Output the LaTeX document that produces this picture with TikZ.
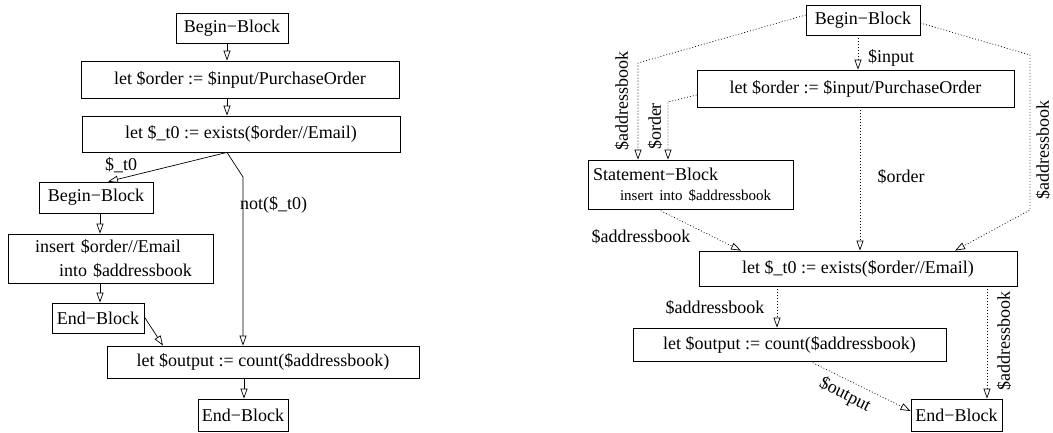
\documentclass[tikz,border=0pt]{standalone}
\usepackage{fontspec}
\setmainfont{Liberation Serif}
\usetikzlibrary{arrows.meta,calc}

\begin{document}
\begin{tikzpicture}[x=1pt,y=-1pt,
  box/.style={draw, line width=0.8pt, inner sep=0pt, font=\fontsize{18}{22}\selectfont},
  flow/.style={line width=0.7pt, -{Triangle[open, length=10pt, width=7pt, line width=0.7pt]}},
  dep/.style={flow, dash pattern=on 0.9pt off 2.1pt},
  lbl/.style={inner sep=0pt, font=\fontsize{18}{22}\selectfont}]
\useasboundingbox (0,0) rectangle (1053,432);

% ---------- control flow graph ----------
\node[box, minimum width=112pt, minimum height=30pt] (lb1) at (232,28) {Begin−Block};
\node[box, minimum width=318pt, minimum height=37pt] (lo) at (240,79.5) {let \$order := \$input/PurchaseOrder};
\node[box, minimum width=318pt, minimum height=36pt] (lt) at (241,134) {let \$\_t0 := exists(\$order//Email)};
\node[box, minimum width=114pt, minimum height=31pt] (lb2) at (96,197.5) {Begin−Block};
\node[box, text width=195pt, inner xsep=5pt, align=left, minimum height=49pt,
      font=\fontsize{18}{24}\selectfont] (li) at (110.5,258.5)
      {\hspace*{22pt}insert \$order//Email\\\hspace*{46pt}into \$addressbook};
\node[box, minimum width=92pt, minimum height=30pt] (le1) at (98,318) {End−Block};
\node[box, minimum width=312pt, minimum height=32pt] (lout) at (263,362) {let \$output := count(\$addressbook)};
\node[box, minimum width=90pt, minimum height=32pt] (le2) at (243,415) {End−Block};
\coordinate (lbend) at (243,177);

\draw[flow] ([xshift=-5pt]lb1.south) -- ([xshift=-13pt]lo.north);
\draw[flow] ([xshift=-13pt]lo.south) -- ([xshift=-14pt]lt.north);
\draw[flow] ([xshift=-14pt]lt.south) -- ([xshift=12pt]lb2.north);
\draw[flow] ([xshift=-14pt]lt.south) -- (lbend) -- ([xshift=-20pt]lout.north);
\draw[flow] ([xshift=4pt]lb2.south) -- ([xshift=-10.5pt]li.north);
\draw[flow] ([xshift=-10.5pt]li.south) -- ([xshift=2pt]le1.north);
\draw[flow] ([yshift=1pt]le1.east) -- ([xshift=-100pt]lout.north);
\draw[flow] ([xshift=-19pt]lout.south) -- ([xshift=1pt]le2.north);

\node[lbl] (lcond) at (121,165) {\$\_t0};
\node[lbl, anchor=west] (lncond) at (240,205) {not(\$\_t0)};

% ---------- data dependence graph ----------
\node[box, minimum width=114pt, minimum height=30pt] (rb) at (863,20) {Begin−Block};
\node[box, minimum width=317pt, minimum height=37pt] (ro) at (855.5,88.5) {let \$order := \$input/PurchaseOrder};
\node[box, text width=195pt, inner xsep=5pt, align=left, minimum height=49pt] (rs) at (690.5,184.5)
      {Statement−Block\\[-2pt]{\fontsize{15}{18}\selectfont\hspace*{27pt}insert into \$addressbook}};
\node[box, minimum width=318pt, minimum height=35pt] (rt) at (858,268.5) {let \$\_t0 := exists(\$order//Email)};
\node[box, minimum width=313pt, minimum height=33pt] (rout) at (789.5,344.5) {let \$output := count(\$addressbook)};
\node[box, minimum width=91pt, minimum height=32pt] (re) at (956.5,415) {End−Block};

\coordinate (c1) at (638,63);
\coordinate (c2) at (668,102);
\coordinate (c3) at (1030,55);
\coordinate (c4) at (1030,210);

\draw[dep] ([yshift=5pt]rb.west) -- (c1) -- (c1 |- rs.north);
\draw[dep] ([xshift=-5pt]rb.south) -- ([xshift=2.5pt]ro.north);
\draw[dep] ([yshift=-6.5pt]ro.west) -- (c2) -- (c2 |- rs.north);
\draw[dep] ([yshift=-3pt]rb.east) -- (c3) -- (c4) -- ([xshift=97pt]rt.north);
\draw[dep] ([xshift=-32.5pt]rs.south) -- ([xshift=-117pt]rt.north);
\draw[dep] ([xshift=4.5pt]ro.south) -- ([xshift=2pt]rt.north);
\draw[dep] ([xshift=-81pt]rt.south) -- ([xshift=-12.5pt]rout.north);
\draw[dep] ([xshift=129pt]rt.south) -- ([xshift=30.5pt]re.north);
\draw[dep] ([xshift=20.5pt]rout.south) -- ([yshift=4pt]re.west);

\node[lbl, rotate=90] (la1) at (622,101) {\$addressbook};
\node[lbl] (la2) at (891,58) {\$input};
\node[lbl, rotate=90] (la3) at (655,126.5) {\$order};
\node[lbl, rotate=90] (la4) at (1043,150) {\$addressbook};
\node[lbl] (la5) at (641,237) {\$addressbook};
\node[lbl] (la6) at (901,177) {\$order};
\node[lbl] (la7) at (715,308) {\$addressbook};
\node[lbl, rotate=90] (la8) at (1004,341) {\$addressbook};
\node[lbl, rotate=-27] (la9) at (845,395) {\$output};
\end{tikzpicture}
\end{document}
